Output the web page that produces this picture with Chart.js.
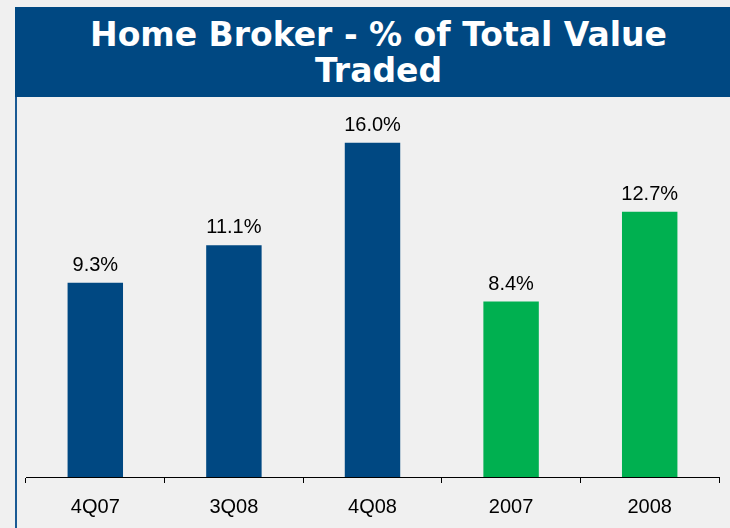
<!DOCTYPE html>
<html>
<head>
<meta charset="utf-8">
<script src="https://cdn.jsdelivr.net/npm/chart.js@4"></script>
<style>
  html, body { margin: 0; padding: 0; }
  body { width: 730px; height: 528px; background: #f0f0f0; position: relative; overflow: hidden; }
  #title {
    position: absolute; left: 15px; top: 7px; width: 715px; height: 90px;
    background: #004882; color: #fff; text-align: center;
    font-family: "DejaVu Sans", Verdana, sans-serif; font-weight: bold;
    font-size: 33px; line-height: 36px; padding-top: 10px; box-sizing: border-box;
    padding-left: 12px;
  }
  #edge { position: absolute; left: 15px; top: 97px; width: 2px; height: 431px; background: #1a5a94; }
  #wrap { position: absolute; left: 0; top: 0; width: 730px; height: 531px; }
</style>
</head>
<body>
<div id="wrap"><canvas id="barChart"></canvas></div>
<div id="title">Home Broker - % of Total Value<br>Traded</div>
<div id="edge"></div>
<script>
var categories = ['4Q07', '3Q08', '4Q08', '2007', '2008'];
var shareValues = [9.3, 11.1, 16.0, 8.4, 12.7];
var barColors = ['#004882', '#004882', '#004882', '#00b050', '#00b050'];

// value labels above bars
var valueLabels = {
    id: 'valueLabels',
    afterDatasetsDraw: function (chart) {
        var ctx = chart.ctx;
        var meta = chart.getDatasetMeta(0);
        ctx.save();
        ctx.font = '20px "Liberation Sans", Arial, sans-serif';
        ctx.fillStyle = '#000';
        ctx.textAlign = 'center';
        ctx.textBaseline = 'alphabetic';
        meta.data.forEach(function (bar, i) {
            ctx.fillText(shareValues[i].toFixed(1) + '%', bar.x, bar.y - 12);
        });
        ctx.restore();
    }
};

var ctx = document.getElementById('barChart').getContext('2d');
var myChart = new Chart(ctx, {
    type: 'bar',
    data: {
        labels: categories,
        datasets: [{
            data: shareValues,
            backgroundColor: barColors,
            borderWidth: 0,
            barPercentage: 0.4,
            categoryPercentage: 1
        }]
    },
    options: {
        responsive: true,
        maintainAspectRatio: false,
        animation: false,
        layout: { padding: { left: 26, right: 11, top: 101, bottom: 0 } },
        scales: {
            x: {
                grid: {
                    offset: true,
                    drawOnChartArea: false,
                    drawTicks: true,
                    tickLength: 6,
                    color: '#000'
                },
                border: { display: true, color: '#000', width: 1 },
                ticks: {
                    color: '#000',
                    padding: 12,
                    font: { family: '"Liberation Sans", Arial, sans-serif', size: 20 }
                }
            },
            y: { display: false, min: 0, max: 18 }
        },
        plugins: {
            legend: { display: false },
            tooltip: { enabled: false }
        }
    },
    plugins: [valueLabels]
});
</script>
</body>
</html>
